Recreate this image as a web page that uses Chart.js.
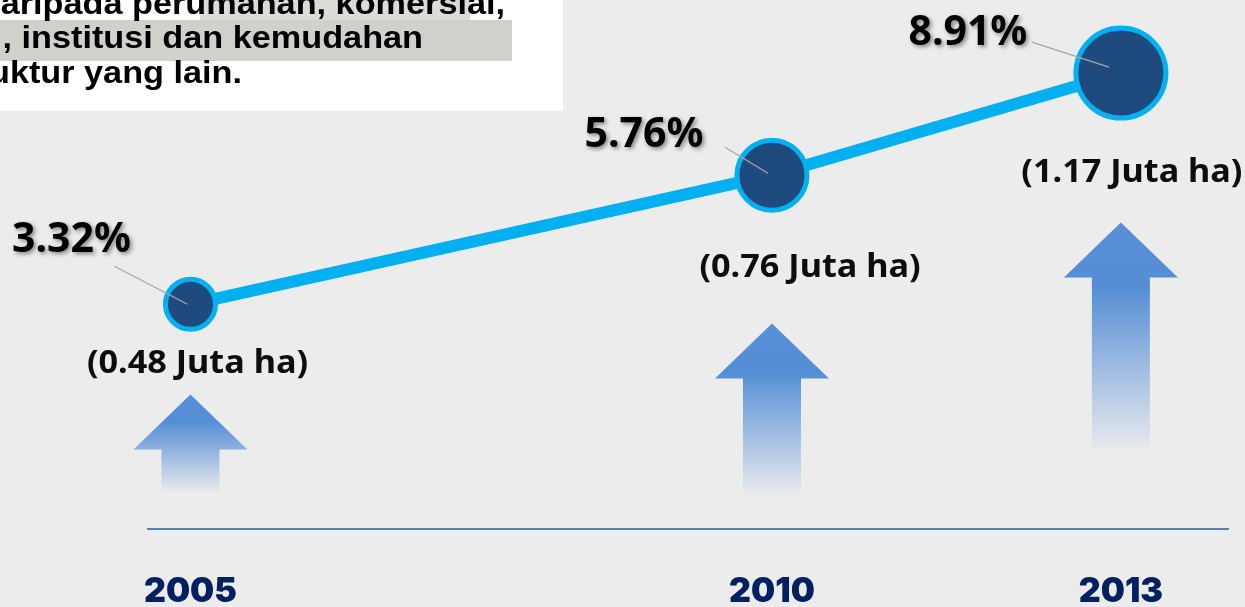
<!DOCTYPE html>
<html><head><meta charset="utf-8">
<script src="https://cdn.jsdelivr.net/npm/chart.js@4/dist/chart.umd.min.js"></script>
<style>html,body{margin:0;padding:0;background:#ececec;overflow:hidden}canvas{display:block}</style>
</head><body>
<canvas id="c" width="1245" height="607"></canvas>
<script>
// ---- data ----
const years = [2005, 2010, 2013];
const percentValues = [3.32, 5.76, 8.91];
const percentLabels = ['3.32%', '5.76%', '8.91%'];
const areaLabels = ['(0.48 Juta ha)', '(0.76 Juta ha)', '(1.17 Juta ha)'];
const yearTickLabels = ['2005', '2010', '2013'];
const noteLines = ['aripada perumahan, komersial,', ', institusi dan kemudahan', 'uktur yang lain.'];

// ---- styles ----
const BG = '#ececec';
const pointRadii = [25, 35, 45];
const pctOffsets = [[-119, -52], [-128, -28], [-153, -28]];
const leaderOffsets = [[-76, -38, -3, 0], [-47, -28, -4, -2], [-89, -31, -12, -6]];
const areaOffsets = [[7, 69], [38, 102], [11, 109]];
const arrowTop = [135, 206, 307];
const arrowBottom = [36, 32, 76];
const noteEndX = [505, 423, 242];
const noteBaseY = [14, 48, 83];

const bgPlugin = {
  id: 'bg',
  beforeDraw(chart) {
    const c = chart.ctx;
    c.save(); c.fillStyle = BG; c.fillRect(0, 0, chart.width, chart.height); c.restore();
  }
};

const arrowPlugin = {
  id: 'arrows',
  beforeDatasetsDraw(chart) {
    const c = chart.ctx, xs = chart.scales.x, base = chart.chartArea.bottom;
    years.forEach((yr, i) => {
      const cx = xs.getPixelForValue(yr);
      const top = base - arrowTop[i], bot = base - arrowBottom[i];
      const headH = 55, headW = 57, shaftW = 29;
      const g = c.createLinearGradient(0, top, 0, bot);
      g.addColorStop(0, '#5a8fd6');
      g.addColorStop(0.28, '#558ed5');
      g.addColorStop(1, 'rgba(236,236,238,1)');
      c.save();
      c.fillStyle = g;
      c.beginPath();
      c.moveTo(cx, top);
      c.lineTo(cx + headW, top + headH);
      c.lineTo(cx + shaftW, top + headH);
      c.lineTo(cx + shaftW, bot);
      c.lineTo(cx - shaftW, bot);
      c.lineTo(cx - shaftW, top + headH);
      c.lineTo(cx - headW, top + headH);
      c.closePath();
      c.fill();
      c.restore();
    });
  }
};

const labelPlugin = {
  id: 'labels',
  afterDatasetsDraw(chart) {
    const c = chart.ctx;
    const meta = chart.getDatasetMeta(0);
    meta.data.forEach((pt, i) => {
      const px = pt.x, py = pt.y;
      const L = leaderOffsets[i];
      c.save();
      c.strokeStyle = '#a6a6a6'; c.lineWidth = 1.3;
      c.beginPath(); c.moveTo(px + L[0], py + L[1]); c.lineTo(px + L[2], py + L[3]); c.stroke();
      c.restore();

      c.save();
      c.font = 'bold 41px "Noto Sans", "Open Sans", sans-serif';
      c.textAlign = 'center'; c.textBaseline = 'alphabetic';
      c.shadowColor = 'rgba(0,0,0,0.45)'; c.shadowBlur = 4; c.shadowOffsetX = 2; c.shadowOffsetY = 2;
      c.fillStyle = '#000';
      c.fillText(percentLabels[i], px + pctOffsets[i][0], py + pctOffsets[i][1]);
      c.restore();

      c.save();
      const sx = 1.07;
      c.scale(sx, 1);
      c.font = 'bold 32px "Noto Sans", "Open Sans", sans-serif';
      c.textAlign = 'center'; c.textBaseline = 'alphabetic';
      c.fillStyle = '#0d0d0d';
      c.fillText(areaLabels[i], (px + areaOffsets[i][0]) / sx, py + areaOffsets[i][1]);
      c.restore();
    });
  }
};

const notePlugin = {
  id: 'note',
  afterDraw(chart) {
    const c = chart.ctx;
    c.save();
    c.fillStyle = '#ffffff'; c.fillRect(0, 0, 563, 111);
    c.fillStyle = '#dddbd7'; c.fillRect(200, 0, 270, 20);
    c.fillStyle = '#d2d0cb'; c.fillRect(0, 20, 512, 41);
    const sx = 1.07;
    c.scale(sx, 1);
    c.fillStyle = '#000';
    c.font = 'bold 32px "Liberation Sans", Arial, sans-serif';
    c.textAlign = 'right'; c.textBaseline = 'alphabetic';
    noteLines.forEach((t, i) => c.fillText(t, noteEndX[i] / sx, noteBaseY[i]));
    c.restore();
  }
};

new Chart(document.getElementById('c'), {
  type: 'line',
  data: {
    datasets: [{
      data: years.map((x, i) => ({ x, y: percentValues[i] })),
      borderColor: '#00b0f0',
      borderWidth: 12,
      pointRadius: pointRadii,
      pointHoverRadius: pointRadii,
      pointBackgroundColor: '#1f4a7e',
      pointBorderColor: '#00b0f0',
      pointBorderWidth: 5,
      tension: 0,
      clip: false
    }]
  },
  options: {
    responsive: false,
    devicePixelRatio: 1,
    animation: false,
    events: [],
    layout: { autoPadding: false, padding: { left: 148, right: 17, top: 0, bottom: -47 } },
    plugins: { legend: { display: false }, tooltip: { enabled: false } },
    scales: {
      x: {
        type: 'linear',
        position: 'bottom',
        min: 2004.635,
        max: 2013.921,
        afterBuildTicks: (axis) => { axis.ticks = years.map(v => ({ value: v })); },
        grid: { display: false, drawTicks: false, tickLength: 0 },
        border: { display: true, color: '#4f81bd', width: 2 },
        ticks: {
          padding: 47,
          color: '#002060',
          font: { family: 'Inter, "DejaVu Sans", sans-serif', weight: '900', size: 34, lineHeight: 0.9 },
          callback: (v) => { const i = years.indexOf(v); return i >= 0 ? yearTickLabels[i] : ''; }
        }
      },
      y: {
        type: 'logarithmic',
        display: false,
        min: 1.270,
        max: 12.17
      }
    }
  },
  plugins: [bgPlugin, arrowPlugin, labelPlugin, notePlugin]
});
</script>
</body></html>
